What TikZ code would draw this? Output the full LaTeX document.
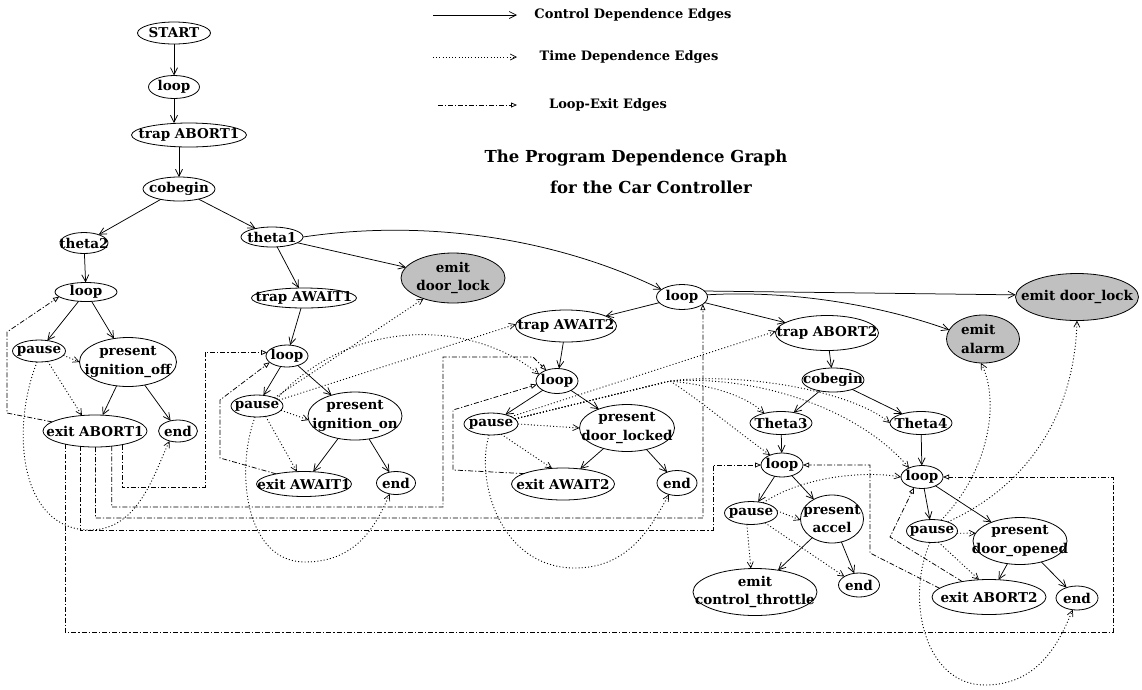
\documentclass[tikz,border=0pt]{standalone}
\usepackage{fontspec}
\setmainfont{DejaVu Serif}
\usetikzlibrary{shapes.geometric,arrows.meta}
\definecolor{emitgray}{RGB}{192,192,192}
\tikzset{
  pn/.style={ellipse, draw, line width=0.8pt, inner sep=0pt, outer sep=0pt},
  emitnode/.style={fill=emitgray},
  every label/.style={inner sep=0pt, align=center, font=\fontsize{13.5}{18.5}\selectfont\bfseries},
  ce/.style={line width=0.75pt, -{Straight Barb[length=7pt,width=7pt]}},
  te/.style={line width=0.9pt, dash pattern=on 1pt off 2.2pt, -{Straight Barb[length=6pt,width=6pt,line width=0.7pt]}},
  le/.style={line width=0.75pt, dash pattern=on 5pt off 2pt on 1.2pt off 2pt, -{Triangle[open,length=6pt,width=5pt]}},
  legendtext/.style={font=\fontsize{13}{16}\selectfont\bfseries, inner sep=0pt},
  titletext/.style={font=\fontsize{16.5}{20}\selectfont\bfseries, inner sep=0pt}
}
% \pdg[style]{name}{x}{y}{width}{height}{text}
\newcommand\pdg[7][]{\node[pn,#1,minimum width=#5pt,minimum height=#6pt,label={center:{#7}}] (#2) at (#3,#4) {};}
\begin{document}
\begin{tikzpicture}[x=1pt,y=-1pt]
\fill[white] (0,0) rectangle (1142,689);
\path[use as bounding box] (0,0) rectangle (1142,689);

% ---- legend and title ----
\coordinate (lgCa) at (433,15);  \coordinate (lgCb) at (517,15);
\coordinate (lgTa) at (433,57);  \coordinate (lgTb) at (517,57);
\coordinate (lgLa) at (438,105); \coordinate (lgLb) at (517,105);
\draw[ce] (lgCa) -- (lgCb);
\draw[te] (lgTa) -- (lgTb);
\draw[le] (lgLa) -- (lgLb);
\node[legendtext] (lgC) at (633,15) {Control Dependence Edges};
\node[legendtext] (lgT) at (629,57) {Time Dependence Edges};
\node[legendtext] (lgL) at (608,105) {Loop-Exit Edges};
\node[titletext] (titleA) at (636,158) {The Program Dependence Graph};
\node[titletext] (titleB) at (651,187) {for the Car Controller};

% ---- nodes ----
\pdg{start}{174}{33}{73}{22}{START}
\pdg{loopA}{174}{87}{51}{23}{loop}
\pdg{trapAa}{189}{135}{115}{24}{trap ABORT1}
\pdg{cobA}{179}{189}{72}{24}{cobegin}
\pdg{thetaB}{84}{243}{48}{21}{theta2}
\pdg{thetaA}{272}{237}{62}{20}{theta1}
% theta2 branch
\pdg{loopL}{86}{292}{62}{19}{loop}
\pdg{pauseL}{39}{351}{53}{22}{pause}
\pdg{presIO}{128}{362}{97}{49}{present\\ignition\_off}
\pdg{exitAa}{95}{431}{104}{32}{exit ABORT1}
\pdg{endL}{178}{431}{39}{22}{end}
% theta1 branch
\pdg[emitnode]{emitDLa}{453}{278}{104}{50}{emit\\door\_lock}
\pdg{trapWa}{304}{298}{105}{20}{trap AWAIT1}
\pdg{loopWa}{287}{356}{42}{22}{loop}
\pdg{pauseWa}{257}{406}{52}{22}{pause}
\pdg{presIOn}{355}{416}{94}{48}{present\\ignition\_on}
\pdg{exitWa}{304}{484}{95}{25}{exit AWAIT1}
\pdg{endWa}{396}{483}{39}{23}{end}
\pdg{loopR}{682}{297}{51}{25}{loop}
\pdg{trapWb}{566}{326}{101}{32}{trap AWAIT2}
\pdg{loopWb}{557}{381}{42}{25}{loop}
\pdg{pauseWb}{491}{424}{54}{22}{pause}
\pdg{presDL}{627}{428}{95}{47}{present\\door\_locked}
\pdg{exitWb}{563}{484}{103}{32}{exit AWAIT2}
\pdg{endWb}{677}{483}{40}{25}{end}
\pdg[emitnode]{emitDLb}{1077}{297}{123}{47}{emit door\_lock}
\pdg{trapAb}{827}{333}{103}{35}{trap ABORT2}
\node[pn,emitnode,minimum width=73pt,minimum height=48pt,label={[align=left]center:{emit\\alarm}}] (emitAl) at (983,339) {};
\pdg{cobB}{833}{380}{62}{24}{cobegin}
\pdg{thetaC}{781}{423}{62}{23}{Theta3}
\pdg{thetaD}{921}{423}{62}{23}{Theta4}
\pdg{loopC}{782}{465}{42}{24}{loop}
\pdg{loopD}{922}{477}{42}{23}{loop}
\pdg{pauseC}{751}{513}{53}{23}{pause}
\pdg{presAc}{832}{519}{63}{48}{present\\accel}
\pdg{emitCT}{755}{592}{124}{47}{emit\\control\_throttle}
\pdg{endC}{859}{585}{41}{24}{end}
\pdg{pauseD}{932}{531}{51}{23}{pause}
\pdg{presDO}{1020}{541}{94}{47}{present\\door\_opened}
\pdg{exitAb}{989}{597}{114}{35}{exit ABORT2}
\pdg{endD}{1077}{598}{42}{24}{end}

% ---- control dependence edges ----
\draw[ce] (start) -- (loopA);
\draw[ce] (loopA.south) -- (loopA.south |- trapAa.north);
\draw[ce] (trapAa.south -| cobA.north) -- (cobA.north);
\draw[ce] (cobA) -- (thetaB);
\draw[ce] (cobA) -- (thetaA);
\draw[ce] (thetaB) -- (loopL);
\draw[ce] (loopL) -- (pauseL);
\draw[ce] (loopL) -- (presIO);
\draw[ce] (presIO) -- (exitAa);
\draw[ce] (presIO) -- (endL);
\draw[ce] (thetaA) -- (trapWa);
\draw[ce] (thetaA) -- (emitDLa);
\draw[ce] (thetaA.east) .. controls (430,218) and (560,240) .. (loopR.160);
\draw[ce] (trapWa) -- (loopWa);
\draw[ce] (loopWa) -- (pauseWa);
\draw[ce] (loopWa) -- (presIOn);
\draw[ce] (presIOn) -- (exitWa);
\draw[ce] (presIOn) -- (endWa);
\draw[ce] (loopR) -- (trapWb);
\draw[ce] (loopR) -- (trapAb);
\draw[ce] (loopR.5) .. controls (790,290) and (880,305) .. (emitAl.165);
\draw[ce] (loopR.15) -- (emitDLb.178);
\draw[ce] (trapWb) -- (loopWb);
\draw[ce] (loopWb) -- (pauseWb);
\draw[ce] (loopWb) -- (presDL);
\draw[ce] (presDL) -- (exitWb);
\draw[ce] (presDL) -- (endWb);
\draw[ce] (trapAb) -- (cobB);
\draw[ce] (cobB) -- (thetaC);
\draw[ce] (cobB) -- (thetaD);
\draw[ce] (thetaC) -- (loopC);
\draw[ce] (loopC) -- (pauseC);
\draw[ce] (loopC) -- (presAc);
\draw[ce] (presAc) -- (emitCT);
\draw[ce] (presAc) -- (endC);
\draw[ce] (thetaD) -- (loopD);
\draw[ce] (loopD) -- (pauseD);
\draw[ce] (loopD) -- (presDO);
\draw[ce] (presDO) -- (exitAb);
\draw[ce] (presDO) -- (endD);

% ---- time dependence edges ----
\draw[te] (pauseL.-10) -- (presIO.180);
\draw[te] (pauseL.-50) -- (exitAa.130);
\draw[te] (pauseL.-100) .. controls (10,430) and (20,530) .. (90,530)
          .. controls (140,530) and (155,470) .. (endL.-130);
\draw[te] (pauseWa.-10) -- (presIOn.185);
\draw[te] (pauseWa.-50) -- (exitWa.120);
\draw[te] (pauseWa.-100) .. controls (235,470) and (245,562) .. (305,562)
          .. controls (360,562) and (378,520) .. (endWa.-120);
\draw[te] (pauseWa.25) -- (emitDLa.215);
\draw[te] (pauseWa.15) -- (trapWb.178);
\draw[te] (pauseWa.20) .. controls (350,318) and (470,318) .. (loopWb.160);
\draw[te] (pauseWb.0) -- (presDL.180);
\draw[te] (pauseWb.-45) -- (exitWb.125);
\draw[te] (pauseWb.-100) .. controls (475,480) and (500,568) .. (575,568)
          .. controls (630,568) and (652,525) .. (endWb.-125);
\draw[te] (pauseWb.20) -- (trapAb.178);
\coordinate (fan) at (670,381);
\draw[te] (pauseWb.12) -- (fan) .. controls (710,385) and (745,395) .. (thetaC.150);
\draw[te] (pauseWb.12) -- (fan) .. controls (700,400) and (735,430) .. (loopC.140);
\draw[te] (pauseWb.12) -- (fan) .. controls (740,372) and (850,390) .. (thetaD.180);
\draw[te] (pauseWb.12) -- (fan) .. controls (760,375) and (860,410) .. (loopD.145);
\draw[te] (pauseC.5) -- (presAc.182);
\draw[te] (pauseC.-35) -- (endC.150);
\draw[te] (pauseC.-110) -- (emitCT.100);
\draw[te] (pauseC.40) .. controls (800,478) and (860,470) .. (loopD.180);
\draw[te] (pauseD.-5) -- (presDO.170);
\draw[te] (pauseD.-60) -- (exitAb.120);
\draw[te] (pauseD.-100) .. controls (905,600) and (925,685) .. (985,685)
          .. controls (1040,685) and (1060,640) .. (endD.-110);
\draw[te] (pauseD.50) .. controls (990,470) and (1000,400) .. (emitAl.-95);
\draw[te] (pauseD.30) .. controls (1040,480) and (1075,400) .. (emitDLb.-90);

% ---- loop-exit edges ----
\draw[le] (exitAa.168) -- (7,413) -- (7,332) -- (loopL.190);
\draw[le] (exitAa.-27) |- (205,487) |- (loopWa.170);
\draw[le] (exitAa.-42) |- (443,507) -- (443,357) -- (533,357) -- (loopWb.135);
\draw[le] (exitAa.-88) |- (703,518) -- (loopR.-19);
\draw[le] (exitAa.-134) |- (713,530) |- (loopC.180);
\draw[le] (exitAa.-156) |- (1113,632) |- (loopD.0);
\draw[le] (exitWa.160) -- (220,458) -- (220,400) -- (loopWa.200);
\draw[le] (exitWb.165) -- (453,470) -- (453,410) -- (loopWb.190);
\draw[le] (exitAb.170) -- (870,553) |- (loopC.0);
\draw[le] (exitAb.150) -- (890,537) -- (loopD.233);
\end{tikzpicture}
\end{document}
